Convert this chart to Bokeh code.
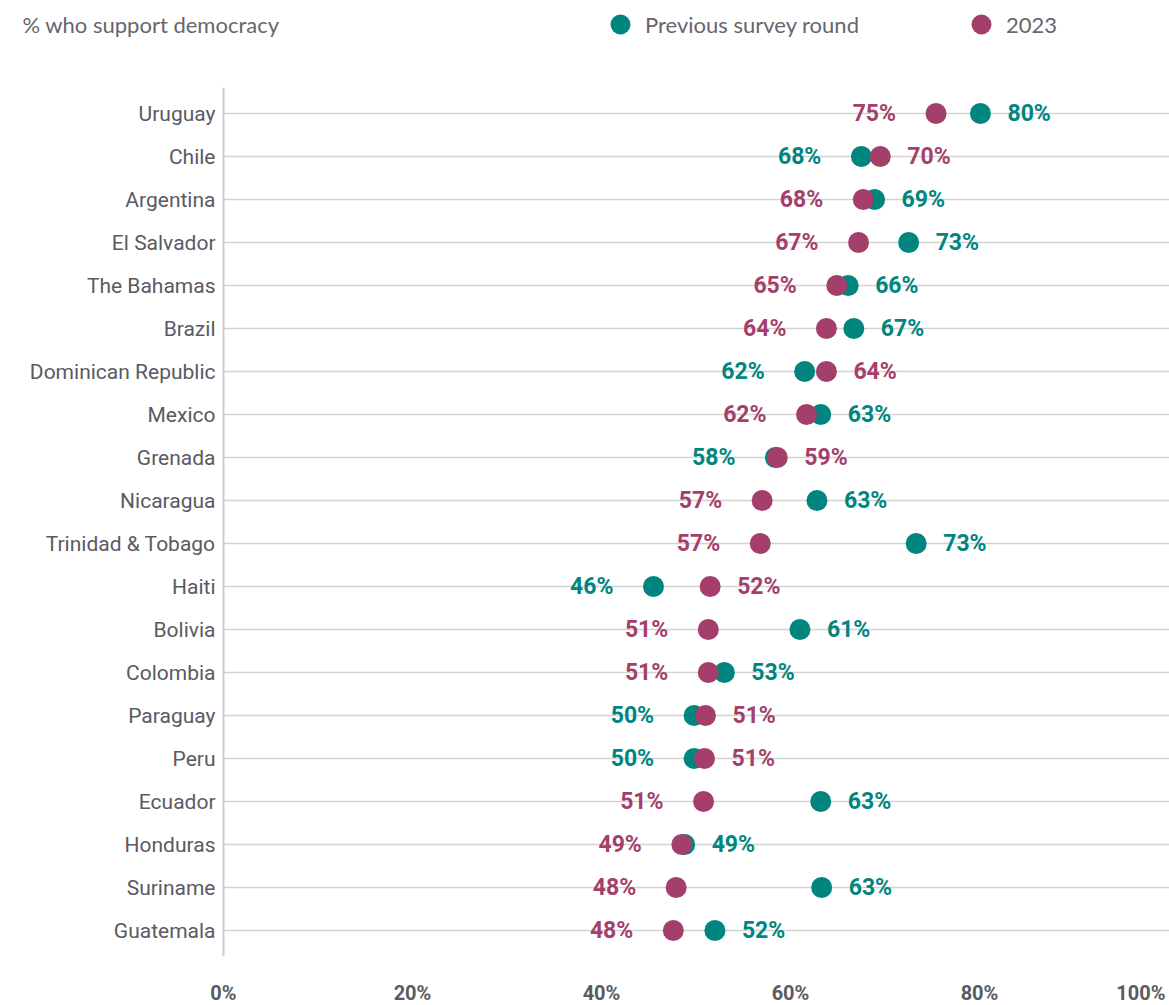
from bokeh.plotting import figure
from bokeh.models import (ColumnDataSource, Range1d, Label, Legend, LegendItem)
from bokeh.core.properties import value
from bokeh.embed import file_html
from bokeh.resources import INLINE

countries = ["Uruguay", "Chile", "Argentina", "El Salvador", "The Bahamas", "Brazil",
             "Dominican Republic", "Mexico", "Grenada", "Nicaragua", "Trinidad & Tobago",
             "Haiti", "Bolivia", "Colombia", "Paraguay", "Peru", "Ecuador", "Honduras",
             "Suriname", "Guatemala"]
previous = [80.1, 67.5, 68.9, 72.5, 66.1, 66.7, 61.5, 63.2, 58.4, 62.8, 73.3, 45.5,
            61.0, 53.0, 49.8, 49.8, 63.2, 48.8, 63.3, 52.0]
y2023 = [75.4, 69.5, 67.7, 67.2, 64.9, 63.8, 63.8, 61.7, 58.6, 57.0, 56.8, 51.5,
         51.3, 51.3, 51.0, 50.9, 50.8, 48.5, 47.9, 47.6]
prev_labels = ["80%", "68%", "69%", "73%", "66%", "67%", "62%", "63%", "58%", "63%", "73%",
               "46%", "61%", "53%", "50%", "50%", "63%", "49%", "63%", "52%"]
labels_2023 = ["75%", "70%", "68%", "67%", "65%", "64%", "64%", "62%", "59%", "57%", "57%",
               "52%", "51%", "51%", "51%", "51%", "51%", "49%", "48%", "48%"]
x_ticks = [0, 20, 40, 60, 80, 100]
x_tick_labels = ["0%", "20%", "40%", "60%", "80%", "100%"]

TEAL = "#00857F"
MAGENTA = "#A43F6B"
GRAY_TXT = "#5A5A62"
HEAD_TXT = "#66666E"
GRID = "#D3D3D3"

# ---- layout (pixels) ----
W, H = 1169, 1005
PLOT_LEFT = 223          # pixel of x = 0
PX_PER_PCT = 9.45        # pixels per percentage point
ROW0 = 113               # pixel of first row
ROW_H = 43               # pixels per row

n = len(countries)
rows = list(range(n))
pad = 0.6

x_range = Range1d(-PLOT_LEFT / PX_PER_PCT, (W - PLOT_LEFT) / PX_PER_PCT)
y_range = Range1d((H - ROW0) / ROW_H, -ROW0 / ROW_H)

p = figure(width=W, height=H, output_backend="svg", toolbar_location=None,
           x_range=x_range, y_range=y_range,
           min_border_left=0, min_border_right=0, min_border_top=0, min_border_bottom=0)
p.outline_line_color = None
p.axis.visible = False
p.grid.visible = False

# grid lines per row and vertical axis line
p.segment(x0=[x_ticks[0]] * n, x1=[x_range.end] * n, y0=rows, y1=rows,
          line_color=GRID, line_width=1.5)
p.segment(x0=[x_ticks[0]], x1=[x_ticks[0]], y0=[-pad], y1=[n - 1 + pad],
          line_color="#CCCCCC", line_width=2)

# country labels
p.text(x=[x_ticks[0]] * n, y=rows, text=countries, x_offset=-8,
       text_align="right", text_baseline="middle",
       text_font=value("Roboto"), text_font_size="21px", text_color=GRAY_TXT)

# x tick labels
tick_y = (992 - ROW0) / ROW_H
tick_align = ["center"] * (len(x_ticks) - 1) + ["right"]
tick_off = [0] * (len(x_ticks) - 1) + [-3]
p.text(x=x_ticks, y=[tick_y] * len(x_ticks), text=x_tick_labels,
       text_align=tick_align, x_offset=tick_off, text_baseline="middle",
       text_font=value("Roboto"), text_font_style="bold", text_font_size="20px",
       text_color=GRAY_TXT)

src = ColumnDataSource(dict(
    y=rows, prev=previous, cur=y2023,
    prev_lab=prev_labels, cur_lab=labels_2023,
))

r_prev = p.scatter("prev", "y", source=src, size=21, color=TEAL, line_color=None)
r_cur = p.scatter("cur", "y", source=src, size=21, color=MAGENTA, line_color=None)

# label placement: higher value labelled on the right, lower on the left
prev_align, prev_off, cur_align, cur_off = [], [], [], []
for a, b in zip(previous, y2023):
    if a > b:
        prev_align.append("left"); prev_off.append(27)
        cur_align.append("right"); cur_off.append(-40)
    else:
        prev_align.append("right"); prev_off.append(-40)
        cur_align.append("left"); cur_off.append(27)
src.data["prev_align"] = prev_align
src.data["prev_off"] = prev_off
src.data["cur_align"] = cur_align
src.data["cur_off"] = cur_off

p.text(x="prev", y="y", text="prev_lab", source=src, x_offset="prev_off",
       text_align="prev_align", text_baseline="middle",
       text_font=value("Roboto"), text_font_style="bold", text_font_size="23px",
       text_color=TEAL)
p.text(x="cur", y="y", text="cur_lab", source=src, x_offset="cur_off",
       text_align="cur_align", text_baseline="middle",
       text_font=value("Roboto"), text_font_style="bold", text_font_size="23px",
       text_color=MAGENTA)

# header
header = Label(x=22, y=H - 24, x_units="screen", y_units="screen",
               text="% who support democracy",
               text_font="Lato", text_font_size="22px", text_color=HEAD_TXT,
               text_baseline="middle", text_align="left")
p.add_layout(header)

legend = Legend(items=[LegendItem(label="Previous survey round", renderers=[r_prev]),
                       LegendItem(label="2023", renderers=[r_cur])],
                orientation="horizontal", location=(595, H - 49),
                padding=0, margin=0, spacing=97, label_standoff=0,
                glyph_width=50, glyph_height=50, label_height=50,
                border_line_color=None, background_fill_alpha=0,
                label_text_font="Lato", label_text_font_size="22px",
                label_text_color=HEAD_TXT, label_text_baseline="middle")
p.add_layout(legend, "center")

open("out.html", "w").write(file_html(p, INLINE))
